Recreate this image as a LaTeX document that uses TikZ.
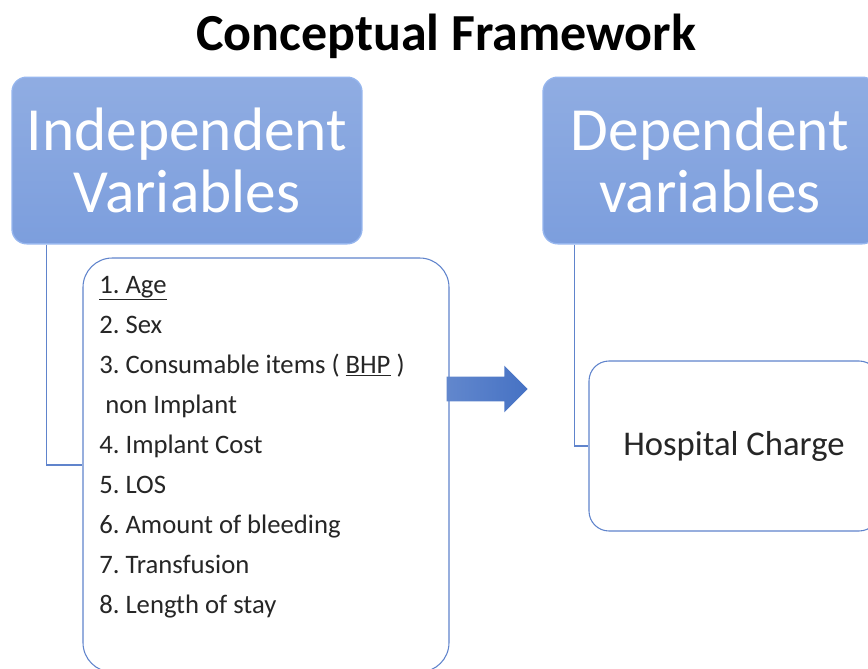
\documentclass[tikz,border=0pt]{standalone}
\usepackage{fontspec}
\setmainfont{Carlito}
\usetikzlibrary{shapes.arrows,calc}
\definecolor{headblue}{RGB}{124,158,221}
\definecolor{headedge}{RGB}{150,182,238}
\definecolor{lineblue}{RGB}{96,132,204}
\definecolor{arrowblue}{RGB}{70,114,196}
\frenchspacing
\tikzset{
  headbox/.style={draw=headedge, line width=1pt, top color=headblue!85!white, bottom color=headblue,
    rounded corners=11pt, text=white, align=center, font=\fontsize{46}{47}\selectfont, inner sep=0pt},
  listbox/.style={draw=lineblue, line width=0.8pt, fill=white, rounded corners=22pt, inner sep=0pt},
  item/.style={anchor=base west, inner sep=0pt, text=black!85, font=\fontsize{20}{24}\selectfont},
  link/.style={draw=lineblue, line width=0.8pt}
}
\begin{document}
\begin{tikzpicture}[x=0.75pt,y=-0.75pt]
  \useasboundingbox (0,0) rectangle (868,668);
  \node[font=\fontsize{39}{44}\selectfont\bfseries] (title) at (446,36) {Conceptual Framework};
  \node[headbox, minimum width=262.5pt, minimum height=125pt] (indep) at (187,160.5)
    {Independent\\Variables};
  \node[headbox, minimum width=250.5pt, minimum height=125pt] (dep) at (710,160.5)
    {Dependent\\variables};
  \node[listbox, minimum width=274.5pt, minimum height=310.5pt] (items) at (266,465) {};
  \foreach \t [count=\i] in {\underline{1. Age}, 2. Sex, 3. Consumable items ( \underline{BHP} ),
      \hspace*{4.5pt}non Implant, 4. Implant Cost, 5. LOS, 6. Amount of bleeding, 7. Transfusion,
      8. Length of stay}
    \node[item] (item\i) at (99,{293+40*(\i-1)}) {\t};
  \node[listbox, rounded corners=15pt, minimum width=217.5pt, minimum height=127.5pt,
    text=black!85, font=\fontsize{26}{30}\selectfont] (charge) at (734,446) {Hospital Charge};
  \node[single arrow, left color=arrowblue!85!white, right color=arrowblue, inner xsep=0pt,
    inner ysep=9pt, minimum height=60.75pt, single arrow head extend=8.25pt] (flow) at (481,389) {};
  \draw[link] ($(indep.south west)+(35,0)$) |- (items.west);
  \draw[link] ($(dep.south west)+(32,0)$) |- (charge.west);
\end{tikzpicture}
\end{document}
